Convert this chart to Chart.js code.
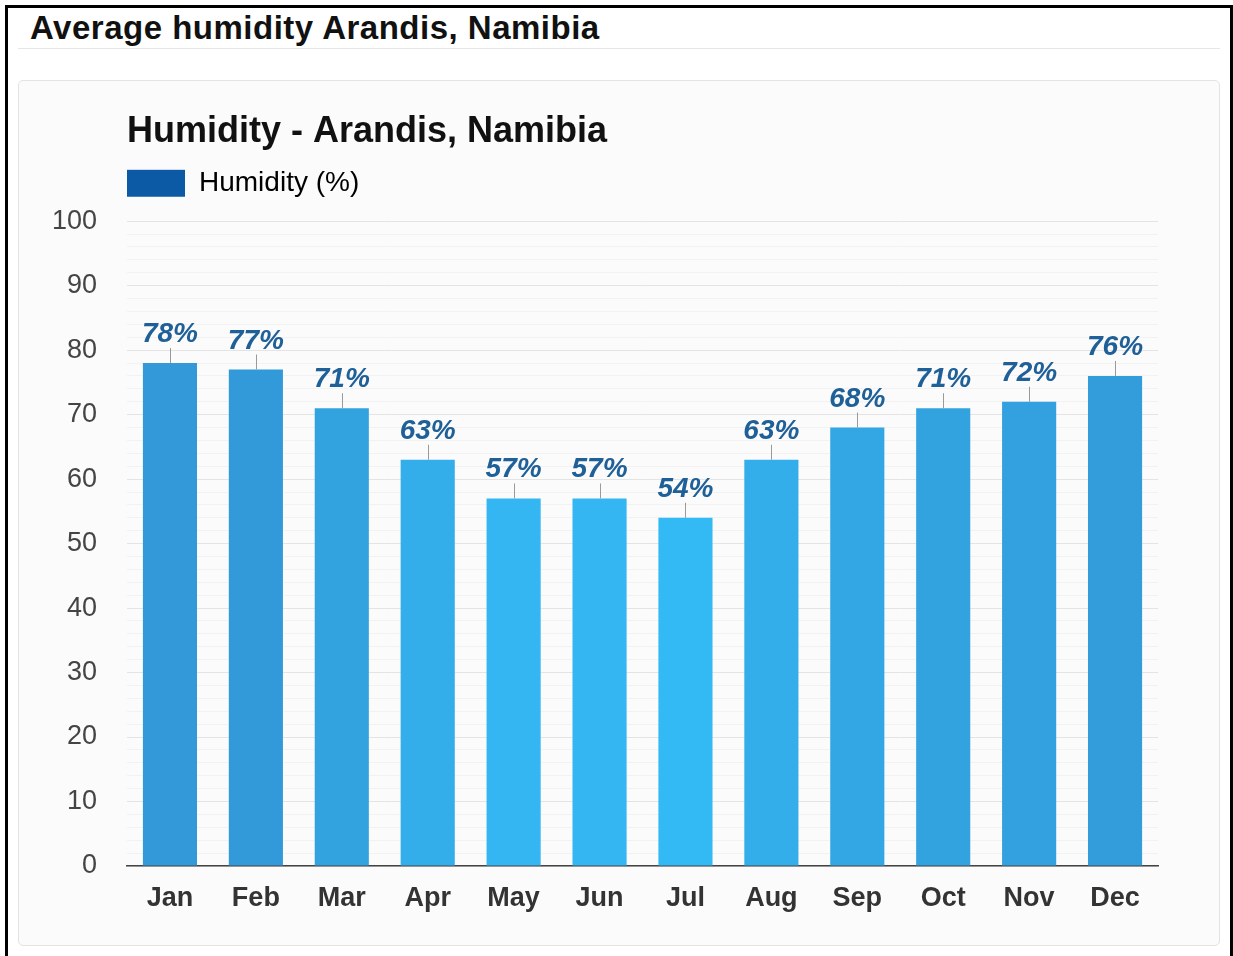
<!DOCTYPE html>
<html>
<head>
<meta charset="utf-8">
<script src="https://cdn.jsdelivr.net/npm/chart.js@4/dist/chart.umd.min.js"></script>
<style>
  html, body { margin: 0; padding: 0; background: #fff; }
  body { width: 1233px; height: 956px; position: relative; overflow: hidden; font-family: "Liberation Sans", Arial, sans-serif; }
  #frame { position: absolute; left: 5px; top: 5px; width: 1222px; height: 980px; border: 3px solid #000; }
  #heading { position: absolute; left: 30px; top: 9px; font-size: 33px; font-weight: bold; color: #111; letter-spacing: 0.5px; }
  #rule { position: absolute; left: 18px; top: 48px; width: 1202px; height: 1px; background: #e6e6e6; }
  #panel { position: absolute; left: 18px; top: 80px; width: 1200px; height: 864px; border: 1px solid #e3e3e3; border-radius: 5px; background: #fbfbfb; }
  #chart { position: absolute; left: 0; top: 0; }
</style>
</head>
<body>
<div id="frame"></div>
<div id="heading">Average humidity Arandis, Namibia</div>
<div id="rule"></div>
<div id="panel"><canvas id="chart" width="1200" height="864"></canvas></div>
<script>
const months = ["Jan", "Feb", "Mar", "Apr", "May", "Jun", "Jul", "Aug", "Sep", "Oct", "Nov", "Dec"];
const humidity = [78, 77, 71, 63, 57, 57, 54, 63, 68, 71, 72, 76];
const yTicks = [0, 10, 20, 30, 40, 50, 60, 70, 80, 90, 100];

// darker blue for wetter months, lighter for drier
const barColor = (v) => {
  const t = Math.max(0, Math.min(1, (78 - v) / 24));
  const g = Math.round(0x99 + (0xba - 0x99) * t);
  const b = Math.round(0xd8 + (0xf4 - 0xd8) * t);
  return `rgb(51,${g},${b})`;
};

const valueLabels = {
  id: "valueLabels",
  afterDatasetsDraw(chart) {
    const ctx = chart.ctx;
    const meta = chart.getDatasetMeta(0);
    ctx.save();
    meta.data.forEach((bar, i) => {
      ctx.strokeStyle = "#9a9a9a";
      ctx.lineWidth = 1;
      ctx.beginPath();
      ctx.moveTo(Math.round(bar.x) + 0.5, bar.y);
      ctx.lineTo(Math.round(bar.x) + 0.5, bar.y - 15);
      ctx.stroke();
      ctx.font = "italic bold 28px 'Liberation Sans', Arial, sans-serif";
      ctx.fillStyle = "#1f6098";
      ctx.textAlign = "center";
      ctx.textBaseline = "alphabetic";
      ctx.fillText(humidity[i] + "%", bar.x, bar.y - 21);
    });
    ctx.restore();
  }
};

new Chart(document.getElementById("chart"), {
  type: "bar",
  data: {
    labels: months,
    datasets: [{
      label: "Humidity (%)",
      data: humidity,
      backgroundColor: (c) => barColor(humidity[c.dataIndex]),
      borderWidth: 0,
      barPercentage: 0.63,
      categoryPercentage: 1
    }]
  },
  options: {
    responsive: false,
    animation: false,
    layout: { padding: { top: 0, right: 61, bottom: 0, left: 0 } },
    plugins: {
      title: {
        display: true,
        text: "Humidity - Arandis, Namibia",
        align: "start",
        fullSize: false,
        color: "#111",
        font: { family: "'Liberation Sans', Arial, sans-serif", size: 36, weight: "bold", lineHeight: 1.2 },
        padding: { top: 29, bottom: 16 }
      },
      subtitle: {
        display: true,
        text: "",
        fullSize: false,
        weight: 500,
        font: { size: 1, lineHeight: 1 },
        padding: { top: 13, bottom: 0 }
      },
      legend: {
        display: true,
        align: "start",
        fullSize: false,
        labels: {
          boxWidth: 58,
          boxHeight: 27,
          padding: 0,
          color: "#333",
          font: { family: "'Liberation Sans', Arial, sans-serif", size: 28 },
          generateLabels: () => [{ text: "Humidity (%)", fillStyle: "#0c5aa6", strokeStyle: "#0c5aa6", lineWidth: 0, datasetIndex: 0 }]
        }
      },
      tooltip: { enabled: false }
    },
    scales: {
      x: {
        grid: { display: false, drawTicks: false },
        border: { display: true, color: "#444", width: 1.5 },
        ticks: {
          color: "#333",
          padding: 16,
          font: { family: "'Liberation Sans', Arial, sans-serif", size: 27, weight: "bold" }
        },
        afterFit: (s) => { s.height = 79; }
      },
      y: {
        min: 0,
        max: 100,
        grid: {
          drawTicks: false,
          color: (c) => (c.tick && yTicks.includes(c.tick.value)) ? "#e4e4e4" : "#f2f2f2",
          lineWidth: 1
        },
        border: { display: false },
        ticks: {
          stepSize: 2,
          autoSkip: false,
          padding: 30,
          color: "#444",
          font: { family: "'Liberation Sans', Arial, sans-serif", size: 27 },
          callback: (v) => yTicks.includes(v) ? v : ""
        },
        afterFit: (s) => { s.width = 108; }
      }
    }
  },
  plugins: [valueLabels]
});
</script>
</body>
</html>
